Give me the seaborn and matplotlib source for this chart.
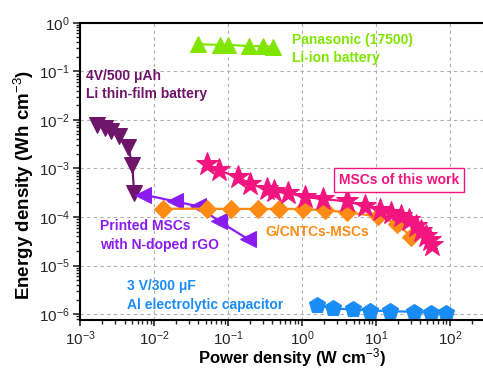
import numpy as np
import pandas as pd
import matplotlib
matplotlib.use("Agg")
import matplotlib.pyplot as plt
import seaborn as sns

# ---- data ----
pana_P = [0.040, 0.078, 0.099, 0.194, 0.30, 0.41]
pana_E = [0.36, 0.35, 0.35, 0.33, 0.33, 0.32]

lifilm_P = [0.00168, 0.00215, 0.00265, 0.0034, 0.0045, 0.0051, 0.0054]
lifilm_E = [0.0078, 0.0069, 0.0059, 0.0046, 0.0028, 0.00115, 0.00031]

printed_P = [0.0072, 0.0192, 0.040, 0.0764, 0.188]
printed_E = [2.9e-4, 2.1e-4, 1.66e-4, 8.1e-5, 3.5e-5]

gcntc_P = [0.0134, 0.0515, 0.110, 0.257, 0.494, 1.04, 2.05, 4.14, 10.7, 19.4, 30.3]
gcntc_E = [1.48e-4, 1.48e-4, 1.47e-4, 1.47e-4, 1.47e-4, 1.46e-4, 1.38e-4, 1.25e-4,
           1.03e-4, 7.3e-5, 3.9e-5]

msc_P = [0.0515, 0.0755, 0.138, 0.202, 0.333, 0.419, 0.653, 1.10, 1.94, 4.02, 7.10,
         11.3, 16.3, 22.2, 28.2, 35.5, 41.4, 47.4, 53.7, 58.3]
msc_E = [1.25e-3, 9.1e-4, 6.6e-4, 4.77e-4, 3.76e-4, 3.37e-4, 3.11e-4, 2.58e-4,
         2.34e-4, 2.10e-4, 1.71e-4, 1.42e-4, 1.21e-4, 1.03e-4, 8.5e-5, 6.4e-5,
         5.1e-5, 4.1e-5, 3.3e-5, 2.7e-5]

alcap_P = [1.58, 2.65, 4.94, 8.47, 15.8, 32.6, 56.5, 88.3]
alcap_E = [1.51e-6, 1.31e-6, 1.25e-6, 1.19e-6, 1.15e-6, 1.12e-6, 1.06e-6, 1.06e-6]

x_ticks = [1e-3, 1e-2, 1e-1, 1e0, 1e1, 1e2]
x_ticklabels = ["$10^{-3}$", "$10^{-2}$", "$10^{-1}$", "$10^{0}$", "$10^{1}$", "$10^{2}$"]
y_ticks = [1e-6, 1e-5, 1e-4, 1e-3, 1e-2, 1e-1, 1e0]
y_ticklabels = ["$10^{-6}$", "$10^{-5}$", "$10^{-4}$", "$10^{-3}$", "$10^{-2}$", "$10^{-1}$", "$10^{0}$"]

sns.set_theme(style="white")
plt.rcParams['font.family'] = ['Liberation Sans', 'DejaVu Sans']
plt.rcParams['mathtext.fontset'] = 'custom'
plt.rcParams['mathtext.rm'] = 'Liberation Sans'
plt.rcParams['mathtext.it'] = 'Liberation Sans:italic'
plt.rcParams['mathtext.bf'] = 'Liberation Sans:bold'

fig = plt.figure(figsize=(4.83, 3.68), dpi=100)
ax = fig.add_axes([80/483, 48/368, 1 - 80/483, (320 - 22.7)/368])

series = [
    (pana_P, pana_E, "^", "#80E600", 11),
    (lifilm_P, lifilm_E, "v", "#6E1469", 11),
    (printed_P, printed_E, "<", "#8A1CF2", 11),
    (gcntc_P, gcntc_E, "D", "#FF8A14", 9),
    (msc_P, msc_E, "*", "#F2157F", 17),
    (alcap_P, alcap_E, "p", "#1A8CF5", 12),
]
for P, E, mk, col, ms in series:
    df = pd.DataFrame({"P": P, "E": E})
    sns.lineplot(data=df, x="P", y="E", ax=ax, sort=False, estimator=None,
                 color=col, marker=mk, markersize=ms, markeredgecolor=col,
                 linewidth=1.6)

ax.set_xscale("log")
ax.set_yscale("log")
ax.set_xlim(1e-3, 10**2.45)
ax.set_ylim(10**-6.12, 1)

ax.set_xticks(x_ticks)
ax.set_xticklabels(x_ticklabels, fontsize=11)
ax.set_yticks(y_ticks)
ax.set_yticklabels(y_ticklabels, fontsize=11)
ax.tick_params(axis="x", which="major", direction="out", length=4.5, width=1.2,
               bottom=True, top=False, pad=2)
ax.tick_params(axis="y", which="major", direction="out", length=5, width=1.2,
               left=True, right=False, pad=2.5)
ax.tick_params(axis="both", which="minor", direction="out", length=3, width=1,
               bottom=True, left=True, top=False, right=False)
ax.xaxis.set_minor_locator(matplotlib.ticker.LogLocator(base=10, subs=np.arange(2, 10)))
ax.yaxis.set_minor_locator(matplotlib.ticker.LogLocator(base=10, subs=np.arange(2, 10)))
ax.xaxis.set_minor_formatter(matplotlib.ticker.NullFormatter())
ax.yaxis.set_minor_formatter(matplotlib.ticker.NullFormatter())

ax.grid(True, which="major", linestyle=(0, (3, 3)), color="#b0b0b0", linewidth=0.8)
for s in ["left", "bottom", "top"]:
    ax.spines[s].set_visible(True)
    ax.spines[s].set_color("black")
    ax.spines[s].set_linewidth(1.5)
ax.spines["right"].set_visible(False)

ax.set_xlabel("Power density (W cm$^{-3}$)", fontsize=12, fontweight="bold",
              color="black")
ax.set_ylabel("Energy density (Wh cm$^{-3}$)", fontsize=13.5, fontweight="bold",
              color="black")
ax.xaxis.set_label_coords((292 - 80) / 403, -(346.5 - 320) / 297.3)
ax.yaxis.set_label_coords(-(80 - 36) / 403, (320 - 185) / 297.3)


def put(px, py, s, col, **kw):
    fig.text(px/483, 1 - py/368, s, color=col, fontsize=10, fontweight="bold",
             va="center", ha="left", **kw)


put(292, 40, "Panasonic (17500)", "#80E600")
put(292, 58, "Li-ion battery", "#80E600")
put(86, 76, "4V/500 \u03bcAh", "#6E1469")
put(86, 94, "Li thin-film battery", "#6E1469")
put(100, 226, "Printed MSCs", "#8A1CF2")
put(100, 245, "with N-doped rGO", "#8A1CF2")
put(265, 232, "G/CNTCs-MSCs", "#FF8A14")
put(127, 286, "3 V/300 \u03bcF", "#1A8CF5")
put(127, 305, "Al electrolytic capacitor", "#1A8CF5")
put(339, 180, "MSCs of this work", "#F2157F",
    bbox=dict(boxstyle="square,pad=0.35", facecolor="white", edgecolor="#F2157F", linewidth=1))

fig.savefig("out.png", dpi=100)
